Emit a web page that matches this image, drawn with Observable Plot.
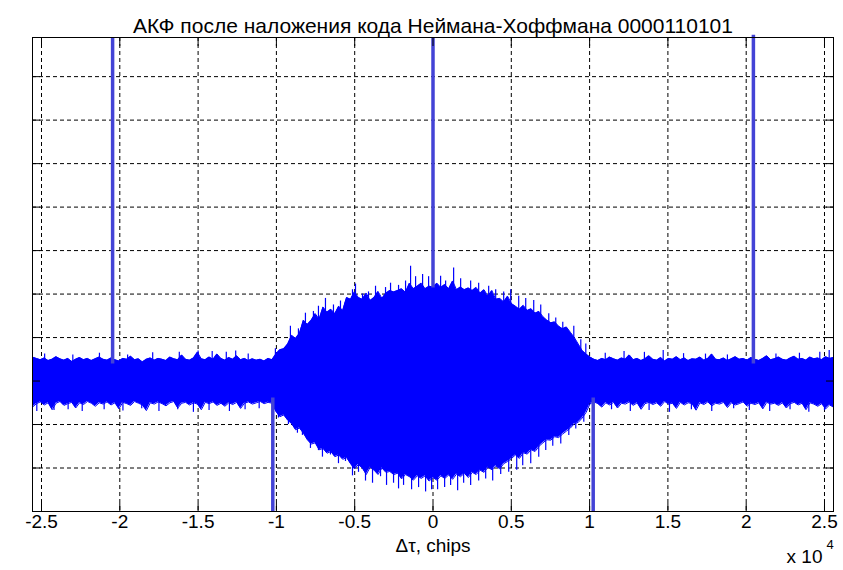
<!DOCTYPE html>
<html>
<head>
<meta charset="utf-8">
<script src="https://cdn.jsdelivr.net/npm/d3@7"></script>
<script src="https://cdn.jsdelivr.net/npm/@observablehq/plot@0.6"></script>
<style>
  html, body { margin: 0; padding: 0; background: #fff; }
  svg { display: block; }
</style>
</head>
<body>
<div id="chart"></div>
<script>
const title = "АКФ после наложения кода Неймана-Хоффмана 0000110101";
const xLabel = "Δτ, chips";
const xDomain = [-25575, 25575];
const yDomain = [-3, 7.9];
const xTicks = [-25000, -20000, -15000, -10000, -5000, 0, 5000, 10000, 15000, 20000, 25000];
const yTicks = [-3, -2, -1, 0, 1, 2, 3, 4, 5, 6, 7];

// upper envelope of the correlation noise (205 samples across the axis)
const hiLeft = [0.55,0.52,0.49,0.53,0.47,0.50,0.56,0.51,0.48,0.52,
  0.45,0.50,0.54,0.49,0.52,0.47,0.51,0.55,0.50,0.48,
  0.53,0.49,0.46,0.52,0.50,0.57,0.49,0.51,0.44,0.50,
  0.53,0.48,0.52,0.50,0.47,0.55,0.51,0.49,0.60,0.50,
  0.48,0.53,0.66,0.51,0.49,0.55,0.50,0.62,0.52,0.48,
  0.54,0.50,0.58,0.49,0.52,0.47,0.51,0.48,0.50,0.46,
  0.52,0.49];
const hiMid = [0.62,0.72,0.74,0.85,1.05,0.98,1.10,1.40,1.30,1.40,
  1.55,1.42,1.70,1.58,1.65,1.55,1.72,1.62,1.92,1.88,
  2.05,1.92,1.88,2.02,1.85,1.92,2.06,1.90,2.02,2.08,
  2.05,2.08,2.12,2.04,2.25,2.12,2.18,2.25,2.12,2.18,
  2.16,2.25,2.15,2.22,2.12,2.30,2.10,2.16,2.10,2.14,
  2.08,2.15,2.02,2.10,1.95,2.08,1.88,1.90,1.82,1.95,
  1.78,1.72,1.65,1.74,1.62,1.66,1.56,1.60,1.48,1.40,
  1.34,1.36,1.26,1.20,1.24,1.12,1.00,0.85,0.70,0.62,
  0.55];
const hiRight = [0.50,0.47,0.52,0.49,0.55,0.51,0.48,0.53,0.50,0.60,
  0.49,0.52,0.47,0.51,0.58,0.50,0.48,0.54,0.46,0.52,
  0.50,0.56,0.49,0.53,0.47,0.51,0.50,0.55,0.48,0.52,
  0.62,0.50,0.49,0.53,0.47,0.51,0.56,0.50,0.52,0.48,
  0.54,0.50,0.47,0.52,0.58,0.49,0.51,0.55,0.50,0.48,
  0.53,0.57,0.50,0.52,0.48,0.55,0.51,0.53,0.49,0.56,
  0.52,0.54];

// lower envelope
const loLeft = [-0.60,-0.52,-0.48,-0.55,-0.50,-0.66,-0.51,-0.47,-0.56,-0.52,
  -0.49,-0.62,-0.50,-0.54,-0.47,-0.51,-0.58,-0.50,-0.53,-0.48,
  -0.55,-0.50,-0.64,-0.49,-0.52,-0.56,-0.47,-0.51,-0.55,-0.68,
  -0.50,-0.53,-0.48,-0.52,-0.57,-0.50,-0.47,-0.62,-0.51,-0.49,
  -0.55,-0.50,-0.53,-0.66,-0.49,-0.52,-0.48,-0.56,-0.51,-0.58,
  -0.50,-0.54,-0.49,-0.63,-0.51,-0.48,-0.53,-0.50,-0.47,-0.52,
  -0.49,-0.51];
const loMid = [-0.70,-0.82,-0.78,-0.90,-0.98,-1.12,-1.08,-1.20,-1.35,-1.45,
  -1.42,-1.58,-1.55,-1.66,-1.62,-1.74,-1.70,-1.80,-1.76,-1.90,
  -2.02,-1.92,-2.00,-2.15,-1.98,-2.05,-2.15,-2.00,-2.10,-2.08,
  -2.15,-2.12,-2.25,-2.15,-2.20,-2.28,-2.18,-2.24,-2.18,-2.30,
  -2.22,-2.28,-2.18,-2.24,-2.16,-2.26,-2.14,-2.20,-2.12,-2.22,
  -2.10,-2.15,-2.05,-2.10,-1.98,-2.04,-1.95,-2.02,-1.90,-1.85,
  -1.78,-1.70,-1.78,-1.65,-1.68,-1.58,-1.62,-1.50,-1.42,-1.35,
  -1.36,-1.28,-1.30,-1.22,-1.15,-1.08,-0.98,-0.95,-0.85,-0.72,
  -0.52];
const loRight = [-0.48,-0.52,-0.60,-0.50,-0.55,-0.49,-0.62,-0.51,-0.53,-0.48,
  -0.56,-0.50,-0.65,-0.52,-0.49,-0.54,-0.50,-0.58,-0.47,-0.53,
  -0.51,-0.63,-0.49,-0.55,-0.50,-0.52,-0.67,-0.50,-0.54,-0.48,
  -0.57,-0.51,-0.53,-0.49,-0.61,-0.50,-0.55,-0.52,-0.48,-0.58,
  -0.51,-0.54,-0.50,-0.64,-0.49,-0.53,-0.51,-0.56,-0.50,-0.62,
  -0.52,-0.49,-0.55,-0.51,-0.66,-0.50,-0.53,-0.58,-0.52,-0.64,
  -0.55,-0.60];

// individual needle-like excursions of the noise (lag in chips, value)
const needleLag = [
  -24800,-23000,-21300,-19500,-17900,-16200,-15000,-14100,-13200,-12600,-11800,
  -10064,-9105,-8593,-8146,-7635,-7315,-6867,-6356,-5908,-5589,-5141,-4949,-4501,-4118,-3670,
  -3031,-2711,-2200,-1752,-1432,-1112,-665,-281,486,806,1317,1765,2404,2916,3555,4003,4514,
  4962,5473,5921,6432,6880,7392,7839,8287,8991,9438,9758,
  11000,12200,13500,14700,16000,17400,18800,21900,23400,24700,25300,
  -25300,-24200,-23300,-22400,-21000,-19800,-18600,-17500,-16300,-15300,-14300,-13000,-12000,-11100,
  -9872,-9233,-8657,-8338,-7826,-7315,-7059,-6548,-6036,-5589,-5141,-4757,-4310,-3862,-3350,
  -2967,-2519,-2200,-1880,-1368,-921,-473,-90,294,742,1125,1573,1957,2404,2916,3364,3811,
  4323,4834,5346,5729,6241,6752,7200,7648,8159,8671,9118,9630,
  11400,12600,13800,15100,16500,17800,19200,20200,21500,22800,24000,25000];
const needleVal = [
  0.62,0.60,0.64,0.60,0.65,0.66,0.69,0.68,0.66,0.69,0.62,
  0.74,1.26,1.20,1.56,1.60,1.72,1.90,1.75,1.84,1.80,2.10,2.23,2.00,2.05,2.18,
  2.15,2.25,2.20,2.30,2.64,2.40,2.45,2.40,2.41,2.30,2.60,2.35,2.30,2.25,2.18,2.10,2.05,
  2.10,1.95,1.90,1.85,1.75,1.55,1.45,1.35,1.26,0.95,0.85,
  0.64,0.68,0.66,0.70,0.63,0.62,0.60,0.62,0.64,0.66,0.70,
  -0.70,-0.68,-0.66,-0.70,-0.66,-0.69,-0.64,-0.70,-0.66,-0.72,-0.68,-0.70,-0.66,-0.64,
  -0.85,-1.00,-1.20,-1.25,-1.55,-1.60,-1.75,-1.70,-1.90,-1.85,-2.18,-2.10,-2.30,-2.35,-2.20,
  -2.40,-2.35,-2.48,-2.40,-2.50,-2.45,-2.55,-2.50,-2.50,-2.45,-2.40,-2.52,-2.35,-2.40,-2.30,-2.25,-2.30,
  -2.15,-2.10,-2.05,-1.95,-1.90,-1.75,-1.60,-1.50,-1.45,-1.25,-1.10,-0.95,
  -0.66,-0.70,-0.68,-0.72,-0.66,-0.70,-0.64,-0.68,-0.70,-0.66,-0.72,-0.68];

// correlation peaks (lag, value where the peak leaves the noise, off-scale end)
const peakLag  = [-20460, -10230, 0, 10230, 20460];
const peakBase = [0.39, -0.39, 2.14, -0.39, 0.39];
const peakEnd  = [7.9, -3, 7.9, -3, 7.95];

const hi = [...hiLeft, ...hiMid, ...hiRight];
const lo = [...loLeft, ...loMid, ...loRight];
const n = hi.length;
const noise = hi.map((h, i) => ({
  lag: xDomain[0] + i * (xDomain[1] - xDomain[0]) / (n - 1),
  hi: h,
  lo: lo[i]
}));
const needles = needleLag.map((l, i) => ({lag: l, v: needleVal[i]}));
const peaks = peakLag.map((l, i) => ({lag: l, y1: peakBase[i], y2: peakEnd[i]}));

const font = "'Liberation Sans', Arial, sans-serif";
const fs = 19;

const plot = Plot.plot({
  width: 843,
  height: 570,
  marginTop: 37,
  marginBottom: 59,
  marginLeft: 32,
  marginRight: 10,
  style: {fontFamily: font, fontSize: fs + "px", color: "#000", background: "#fff"},
  x: {domain: xDomain, axis: null},
  y: {domain: yDomain, axis: null},
  marks: [
    Plot.gridX(xTicks, {stroke: "#000", strokeOpacity: 1, strokeDasharray: "4,3"}),
    Plot.gridY(yTicks, {stroke: "#000", strokeOpacity: 1, strokeDasharray: "4,3"}),
    Plot.areaY(noise, {x: "lag", y1: "lo", y2: "hi", fill: "#0000ff"}),
    Plot.line(noise, {x: "lag", y: "hi", stroke: "#0000ff", strokeWidth: 1}),
    Plot.line(noise, {x: "lag", y: "lo", stroke: "#0000ff", strokeWidth: 1}),
    Plot.ruleX(needles, {x: "lag", y1: 0, y2: "v", stroke: "#0000ff", strokeWidth: 1.2}),
    Plot.ruleX(peaks, {x: "lag", y1: "y1", y2: "y2", stroke: "#4343d6", strokeWidth: 3.5}),
    Plot.frame({stroke: "#000", strokeWidth: 1}),
    Plot.axisX(xTicks, {anchor: "bottom", tickSize: -8, text: null, label: null, stroke: "#000"}),
    Plot.axisX(xTicks, {anchor: "top", tickSize: -8, text: null, label: null, stroke: "#000"}),
    Plot.axisY(yTicks, {anchor: "left", tickSize: -8, text: null, label: null, stroke: "#000"}),
    Plot.axisY(yTicks, {anchor: "right", tickSize: -8, text: null, label: null, stroke: "#000"}),
    Plot.axisX(xTicks, {anchor: "bottom", tickSize: 0, tickPadding: 3, fontSize: fs, label: null,
      tickFormat: d => String(d / 1e4)}),
    Plot.text([xLabel], {frameAnchor: "bottom", dy: 40, fontSize: fs, fill: "#000"}),
    Plot.text(["x 10"], {frameAnchor: "bottom-right", dx: -11, dy: 51, textAnchor: "end", fontSize: fs, fill: "#000"}),
    Plot.text(["4"], {frameAnchor: "bottom-right", dx: -7, dy: 37, textAnchor: "start", fontSize: 13, fill: "#000"}),
    Plot.text([title], {frameAnchor: "top", dy: -19, fontSize: 21, fill: "#000"})
  ]
});
document.getElementById("chart").appendChild(plot);
</script>
</body>
</html>
